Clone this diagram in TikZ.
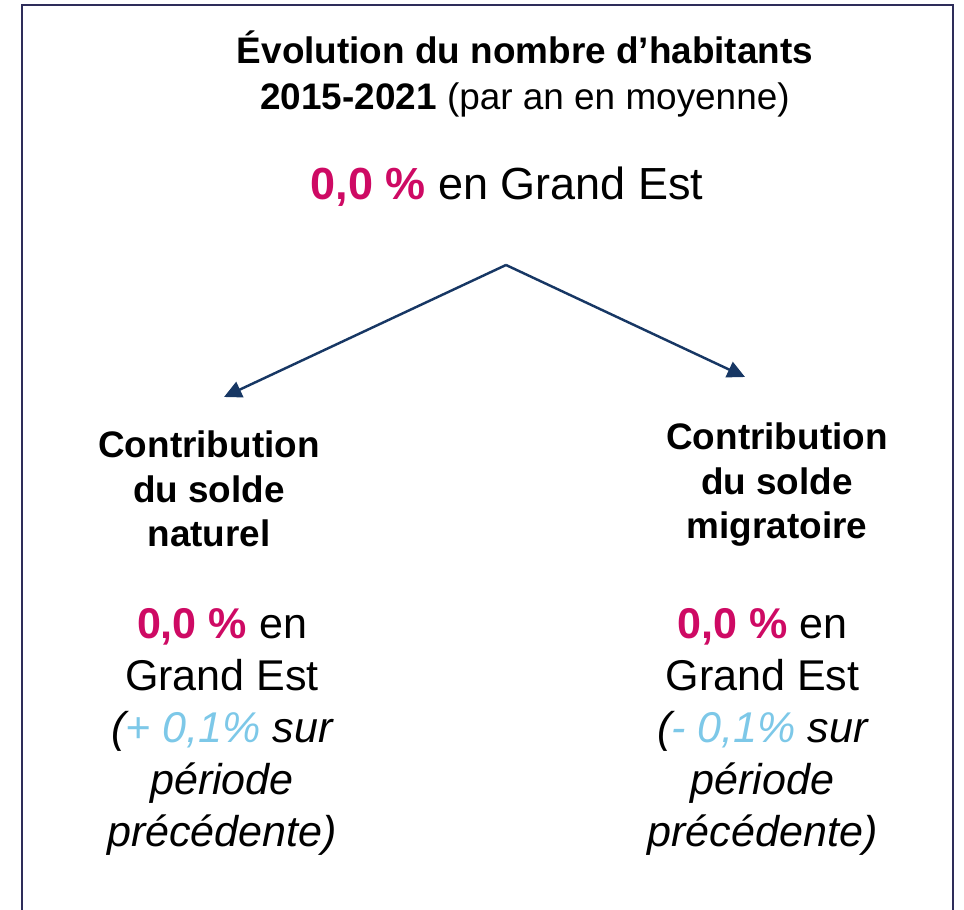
\documentclass[tikz,border=0pt]{standalone}
\usepackage{fontspec}
\setmainfont{Liberation Sans}
\usetikzlibrary{arrows.meta}
\definecolor{cadre}{RGB}{46,45,90}
\definecolor{fleche}{RGB}{23,55,100}
\definecolor{rose}{RGB}{206,10,100}
\definecolor{ciel}{RGB}{125,200,232}
\newcommand{\taux}[1]{\textcolor{rose}{\textbf{#1}}}
\newcommand{\ecart}[1]{\textcolor{ciel}{#1}}

\begin{document}
\begin{tikzpicture}[
    bloc/.style={anchor=base, align=center, inner sep=0pt},
    lien/.style={fleche, line width=1.4pt, -{Triangle[length=10pt,width=9.5pt]}}]
      \useasboundingbox (0,0) rectangle (19.28,18.18);
      \draw[cadre, line width=1.4pt] (0.44,-0.3) -- (0.44,18.08) -- (19.06,18.08) -- (19.06,-0.3);

      % Grand Est
      \node (titre) at (10.5,15.98) [bloc, font=\fontsize{21}{26.7}\selectfont]
        {\textbf{Évolution du nombre d’habitants}\\\textbf{2015-2021} (par an en moyenne)};
      \node (ge) at (10.14,14.18) [bloc, font=\fontsize{25.6}{30}\selectfont]
        {\taux{0,0 \%} en Grand Est};

      \coordinate (split) at (10.12,12.88);
      \coordinate (natTip) at (4.48,10.24);
      \coordinate (migTip) at (14.9,10.64);
      \draw[lien] (split) to (natTip);
      \draw[lien] (split) to (migTip);

      % solde naturel
      \node (nat) at (4.18,7.24) [bloc, font=\fontsize{21}{25.6}\selectfont\bfseries]
        {Contribution\\du solde\\naturel};
      \node (natVal) at (4.44,1.25) [bloc, font=\fontsize{24.5}{29.6}\selectfont]
        {\taux{0,0 \%} en\\Grand Est\\\itshape(\ecart{+ 0,1\%} sur\\\itshape période\\\itshape précédente)};

      % solde migratoire
      \node (mig) at (15.54,7.4) [bloc, font=\fontsize{21}{25.6}\selectfont\bfseries]
        {Contribution\\du solde\\migratoire};
      \node (migVal) at (15.25,1.25) [bloc, font=\fontsize{24.5}{29.6}\selectfont]
        {\taux{0,0 \%} en\\Grand Est\\\itshape(\ecart{- 0,1\%} sur\\\itshape période\\\itshape précédente)};
\end{tikzpicture}
\end{document}
